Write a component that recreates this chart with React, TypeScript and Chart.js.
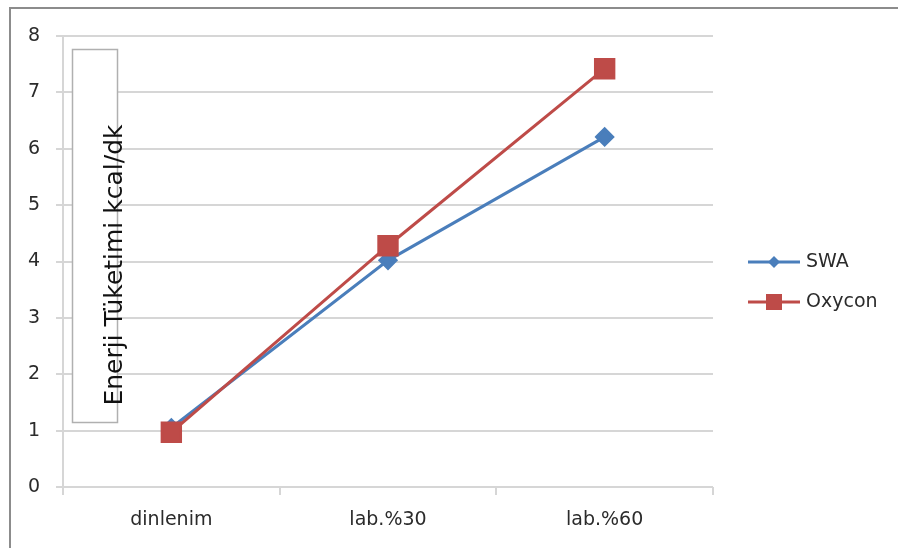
import React, { useEffect, useRef } from "react";
import { Chart, registerables } from "chart.js";

Chart.register(...registerables);

const categories = ["dinlenim", "lab.%30", "lab.%60"];
const swaValues = [1.05, 4.02, 6.21];
const oxyconValues = [0.97, 4.28, 7.42];
const seriesNames = ["SWA", "Oxycon"];
const seriesColors = ["#4a7ebb", "#be4b48"];
const yTitle = "Enerji Tüketimi kcal/dk";
const yMin = 0;
const yMax = 8;
const yStep = 1;

const FONT = "'DejaVu Sans', sans-serif";
const TEXT_COLOR = "#2b2b2b";
const GRID = "#d6d6d6";

const decorPlugin = {
  id: "decor",
  beforeDraw(chart: any) {
    const ctx = chart.ctx;
    ctx.save();
    ctx.fillStyle = "#ffffff";
    ctx.fillRect(0, 0, chart.width, chart.height);
    ctx.strokeStyle = "#8c8c8c";
    ctx.lineWidth = 2;
    ctx.beginPath();
    ctx.moveTo(10, chart.height);
    ctx.lineTo(10, 8);
    ctx.lineTo(chart.width, 8);
    ctx.stroke();
    ctx.restore();
  },
  afterDraw(chart: any) {
    const ctx = chart.ctx;
    ctx.save();
    // y-axis title box
    ctx.fillStyle = "#ffffff";
    ctx.fillRect(72, 49, 45, 373);
    ctx.strokeStyle = "#b0b0b0";
    ctx.lineWidth = 1.5;
    ctx.strokeRect(72.5, 49.5, 45, 373);
    ctx.translate(122, 265);
    ctx.rotate(-Math.PI / 2);
    ctx.fillStyle = "#111111";
    ctx.font = `25px ${FONT}`;
    ctx.textAlign = "center";
    ctx.textBaseline = "alphabetic";
    ctx.fillText(yTitle, 0, 0);
    ctx.restore();

    // legend
    ctx.save();
    chart.data.datasets.forEach((ds: any, i: number) => {
      const y = 262 + i * 40;
      ctx.strokeStyle = ds.borderColor;
      ctx.lineWidth = 3;
      ctx.beginPath();
      ctx.moveTo(748, y);
      ctx.lineTo(800, y);
      ctx.stroke();
      ctx.fillStyle = ds.backgroundColor;
      ctx.beginPath();
      if (ds.pointStyle === "rect") {
        ctx.rect(774 - 8, y - 8, 16, 16);
      } else {
        const r = 6;
        ctx.moveTo(774 - r, y);
        ctx.lineTo(774, y - r);
        ctx.lineTo(774 + r, y);
        ctx.lineTo(774, y + r);
        ctx.closePath();
      }
      ctx.fill();
      ctx.fillStyle = TEXT_COLOR;
      ctx.font = `19px ${FONT}`;
      ctx.textAlign = "left";
      ctx.textBaseline = "middle";
      ctx.fillText(ds.label, 806, y);
    });
    ctx.restore();
  },
};

export default function App() {
  const ref = useRef<HTMLCanvasElement | null>(null);
  useEffect(() => {
    if (!ref.current) return;
    const chart = new Chart(ref.current, {
      type: "line",
      data: {
        labels: categories,
        datasets: [
          {
            label: seriesNames[0],
            data: swaValues,
            borderColor: seriesColors[0],
            backgroundColor: seriesColors[0],
            borderWidth: 3,
            pointStyle: "rectRot",
            pointRadius: 8,
            tension: 0,
            order: 1,
          },
          {
            label: seriesNames[1],
            data: oxyconValues,
            borderColor: seriesColors[1],
            backgroundColor: seriesColors[1],
            borderWidth: 3,
            pointStyle: "rect",
            pointRadius: 13,
            tension: 0,
            order: 0,
          },
        ],
      },
      options: {
        animation: false,
        responsive: false,
        layout: { padding: { left: 0, top: 36, right: 185, bottom: 0 } },
        plugins: {
          legend: { display: false },
          tooltip: { enabled: false },
        },
        scales: {
          x: {
            offset: true,
            grid: {
              offset: true,
              drawOnChartArea: false,
              drawTicks: true,
              tickLength: 8,
              color: GRID,
              lineWidth: 2,
            },
            border: { display: false },
            ticks: {
              color: TEXT_COLOR,
              font: { family: FONT, size: 19 },
              padding: 14,
              maxRotation: 0,
            },
            afterFit(scale: any) {
              scale.height = 61;
            },
          },
          y: {
            min: yMin,
            max: yMax,
            ticks: {
              stepSize: yStep,
              color: TEXT_COLOR,
              font: { family: FONT, size: 19 },
              padding: 16,
            },
            grid: {
              color: GRID,
              lineWidth: 2,
              tickLength: 7,
            },
            border: { display: true, color: GRID, width: 2 },
            afterFit(scale: any) {
              scale.width = 63;
            },
          },
        },
      },
      plugins: [decorPlugin],
    });
    return () => chart.destroy();
  }, []);
  return (
    <div style={{ position: "fixed", left: 0, top: 0, width: 898, height: 548 }}>
      <canvas ref={ref} width={898} height={548} />
    </div>
  );
}
